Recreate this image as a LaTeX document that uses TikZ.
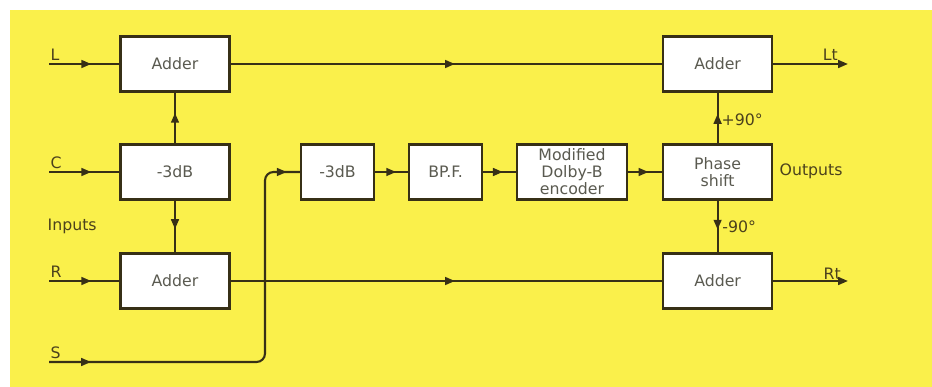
\documentclass[tikz,border=0pt]{standalone}
\usepackage{fontspec}
\setmainfont{DejaVu Sans}
\usetikzlibrary{arrows.meta, positioning, decorations.markings}
\definecolor{bgyellow}{RGB}{250, 240, 75}
\definecolor{wirecol}{RGB}{55, 48, 22}
\definecolor{boxtext}{RGB}{90, 90, 80}
\definecolor{labtext}{RGB}{75, 65, 28}
\tikzset{midarrow/.style={decoration={markings, mark=at position #1 with {\arrow{Triangle[length=7pt, width=5.5pt]}}}, postaction={decorate}}}

\begin{document}
\begin{tikzpicture}
            \tikzstyle{block} = [rectangle, draw=wirecol, fill=white, line width=1.5pt, minimum width=2.725cm, minimum height=1.375cm, inner sep=1pt, align=center, text=boxtext, font=\fontsize{11.2}{12}\selectfont]
            \tikzstyle{smallblock} = [block, minimum width=1.825cm]
            \tikzstyle{wire} = [line width=1.5pt, wirecol]
            \tikzstyle{lbl} = [text=labtext, inner sep=1pt, font=\fontsize{11.2}{12}\selectfont]
            
            \useasboundingbox (0,0) rectangle (23.3,9.675);
            \fill[bgyellow] (0.25,0) rectangle (23.3,9.425);
            
            % left column
            \node[block] (addL) at (4.375,8.075) {Adder};
            \node[block] (attC) at (4.375,5.375) {-3dB};
            \node[block] (addR) at (4.375,2.65) {Adder};
            
            % surround chain
            \node[smallblock] (att) at (8.4375,5.375) {-3dB};
            \node[smallblock] (bpf) at (11.14,5.375) {BP.F.};
            \node[block, minimum width=2.75cm] (enc) at (14.3,5.375) {Modified\\Dolby-B\\encoder};
            
            % right column
            \node[block] (phase) at (17.94,5.375) {Phase\\shift};
            \node[block] (addLt) at (17.94,8.075) {Adder};
            \node[block] (addRt) at (17.94,2.65) {Adder};
            
            \coordinate (inL) at (1.225,8.075);
            \coordinate (inC) at (1.225,5.375);
            \coordinate (inR) at (1.225,2.65);
            \coordinate (inS) at (1.225,0.625);
            \coordinate (bendS) at (6.625,0.625);
            \coordinate (outLt) at (21.2,8.075);
            \coordinate (outRt) at (21.2,2.65);
            
            \node[lbl, above right=1pt and 0pt of inL] (labL) {L};
            \node[lbl, above right=1pt and 0pt of inC] (labC) {C};
            \node[lbl, above right=1pt and 0pt of inR] (labR) {R};
            \node[lbl, above right=1pt and 0pt of inS] (labS) {S};
            \node[lbl, anchor=west] (labIn) at (1.15,4.025) {Inputs};
            \node[lbl, above left=1pt and 6pt of outLt] (labLt) {Lt};
            \node[lbl, above left=0pt and 4pt of outRt] (labRt) {Rt};
            \node[lbl, anchor=west] (labOut) at (19.45,5.4) {Outputs};
            \node[lbl, anchor=west] (labPlus) at (18.0,6.69) {+90°};
            \node[lbl, anchor=west] (labMinus) at (18.02,4.0) {-90°};
            
            \draw[wire, midarrow=0.6] (inL) -- (addL);
            \draw[wire, midarrow=0.6] (inC) -- (attC);
            \draw[wire, midarrow=0.6] (inR) -- (addR);
            \draw[wire, rounded corners=6pt, decoration={markings, mark=at position 1.05cm with {\arrow{Triangle[length=7pt, width=5.5pt]}}, mark=at position -0.33cm with {\arrow{Triangle[length=7pt, width=5.5pt]}}}, postaction={decorate}] (inS) -- (bendS) |- (att.west);
            \draw[wire, midarrow=0.6] (attC) -- (addL);
            \draw[wire, midarrow=0.55] (attC) -- (addR);
            \draw[wire, midarrow=0.52] (addL) -- (addLt);
            \draw[wire, midarrow=0.52] (addR) -- (addRt);
            \draw[wire, midarrow=0.64] (att) -- (bpf);
            \draw[wire, midarrow=0.6] (bpf) -- (enc);
            \draw[wire, midarrow=0.6] (enc) -- (phase);
            \draw[wire, midarrow=0.58] (phase) -- (addLt);
            \draw[wire, midarrow=0.56] (phase) -- (addRt);
            \draw[wire, -{Triangle[length=7pt, width=5.5pt]}] (addLt) -- (outLt);
            \draw[wire, -{Triangle[length=7pt, width=5.5pt]}] (addRt) -- (outRt);
        \end{tikzpicture}
\end{document}
